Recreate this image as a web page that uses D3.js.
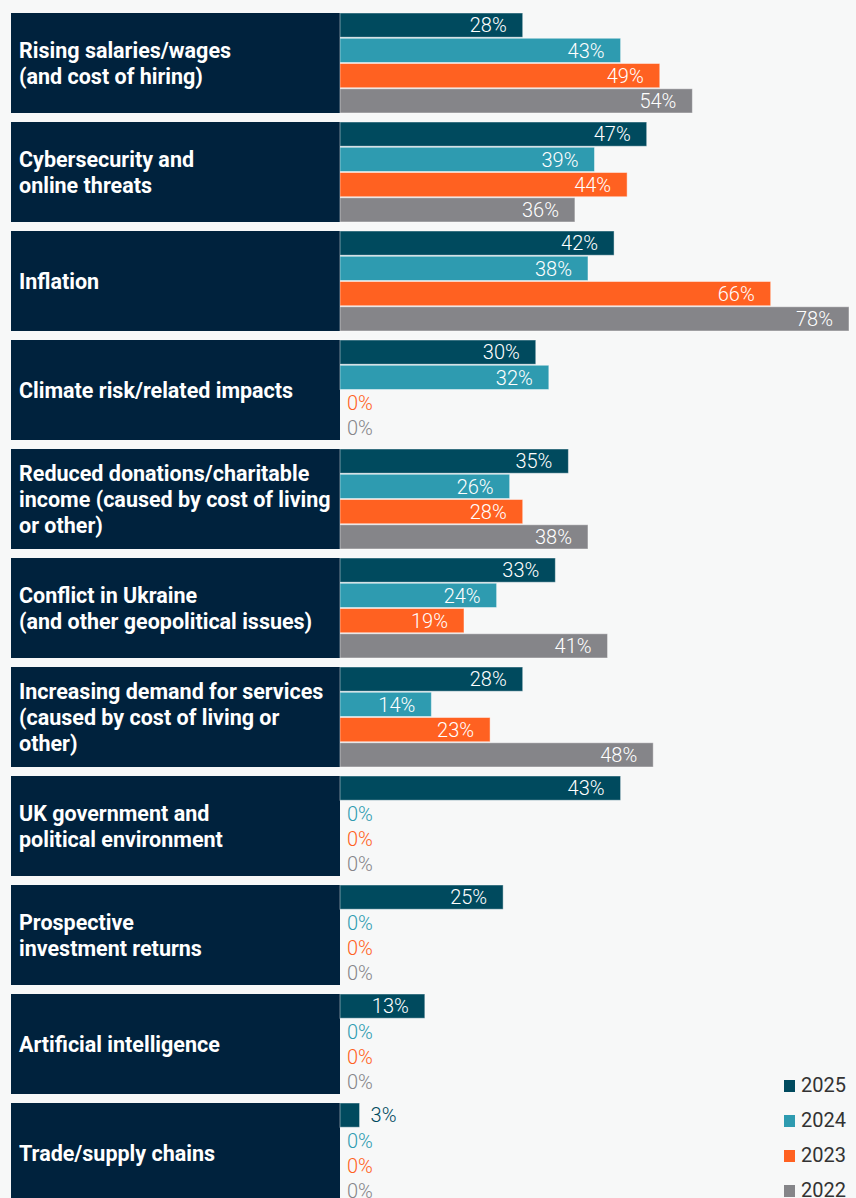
<!DOCTYPE html>
<html>
<head>
<meta charset="utf-8">
<script src="https://cdn.jsdelivr.net/npm/d3@7"></script>
<style>
  html, body { margin: 0; padding: 0; background: #f7f8f8; }
  svg { display: block; }
</style>
</head>
<body>
<svg id="chart" width="856" height="1198"></svg>
<script>
// Concerns, one entry per row group (lines as drawn in the label box)
const categories = [
  ["Rising salaries/wages", "(and cost of hiring)"],
  ["Cybersecurity and", "online threats"],
  ["Inflation"],
  ["Climate risk/related impacts"],
  ["Reduced donations/charitable", "income (caused by cost of living", "or other)"],
  ["Conflict in Ukraine", "(and other geopolitical issues)"],
  ["Increasing demand for services", "(caused by cost of living or", "other)"],
  ["UK government and", "political environment"],
  ["Prospective", "investment returns"],
  ["Artificial intelligence"],
  ["Trade/supply chains"]
];

const years = ["2025", "2024", "2023", "2022"];

// Share of respondents (%) per year
const values2025 = [28, 47, 42, 30, 35, 33, 28, 43, 25, 13, 3];
const values2024 = [43, 39, 38, 32, 26, 24, 14, 0, 0, 0, 0];
const values2023 = [49, 44, 66, 0, 28, 19, 23, 0, 0, 0, 0];
const values2022 = [54, 36, 78, 0, 38, 41, 48, 0, 0, 0, 0];

const seriesValues = [values2025, values2024, values2023, values2022];
const yearColors = ["#004a5e", "#2e9bb0", "#ff6121", "#858589"];

const svg = d3.select("#chart");

const boxLeft = 11, barLeft = 340;
const groupTop = 13, groupStep = 109, groupGap = 9;

const x = d3.scaleLinear().domain([0, 78]).range([barLeft, 849]);

const groupY = d3.scaleBand()
  .domain(d3.range(categories.length))
  .range([groupTop, groupTop + groupStep * categories.length - groupGap])
  .paddingInner(groupGap / groupStep)
  .paddingOuter(0);

const barY = d3.scaleBand()
  .domain(years)
  .range([0, groupY.bandwidth()])
  .paddingInner(0.04);

const color = d3.scaleOrdinal().domain(years).range(yearColors);

const groups = svg.selectAll("g.group")
  .data(categories)
  .join("g")
  .attr("class", "group")
  .attr("transform", (d, i) => `translate(0,${groupY(i)})`);

// Label box on the left
groups.append("rect")
  .attr("x", boxLeft)
  .attr("y", 0)
  .attr("width", barLeft - boxLeft)
  .attr("height", groupY.bandwidth())
  .attr("fill", "#00223d");

const lineH = 26;
groups.append("text")
  .attr("font-family", "Roboto, 'Noto Sans', sans-serif")
  .attr("font-weight", 700)
  .attr("font-size", 21.5)
  .attr("fill", "#ffffff")
  .each(function(lines) {
    const t = d3.select(this);
    const mid = groupY.bandwidth() / 2;
    lines.forEach((ln, k) => {
      t.append("tspan")
        .attr("x", 19)
        .attr("y", mid + (k - (lines.length - 1) / 2) * lineH + 7.5)
        .text(ln);
    });
  });

// Bars per year inside each group
groups.each(function(cat, i) {
  const g = d3.select(this);
  years.forEach((yr, s) => {
    const v = seriesValues[s][i];
    const y0 = barY(yr);
    const h = barY.bandwidth();
    if (v > 0) {
      g.append("rect")
        .attr("x", x(0))
        .attr("y", y0)
        .attr("width", x(v) - x(0))
        .attr("height", h)
        .attr("fill", color(yr))
        .attr("stroke", "rgba(255,255,255,0.45)")
        .attr("stroke-width", 1);
    }
    const w = x(v) - x(0);
    const inside = w > 50;
    g.append("text")
      .attr("x", inside ? x(v) - 16 : (v > 0 ? x(v) + 11 : x(0) + 7))
      .attr("y", y0 + h / 2)
      .attr("dy", "0.36em")
      .attr("text-anchor", inside ? "end" : "start")
      .attr("font-family", "Roboto, 'Noto Sans', sans-serif")
      .attr("font-weight", 300)
      .attr("font-size", 20)
      .attr("fill", inside ? "#ffffff" : color(yr))
      .text(v + "%");
  });
});

// Legend
const legend = svg.append("g")
  .selectAll("g")
  .data(years)
  .join("g")
  .attr("transform", (d, i) => `translate(784,${1080 + i * 35})`);

legend.append("rect")
  .attr("width", 11)
  .attr("height", 12)
  .attr("fill", d => color(d));

legend.append("text")
  .attr("x", 17)
  .attr("y", 12)
  .attr("font-family", "Roboto, 'Noto Sans', sans-serif")
  .attr("font-size", 20)
  .attr("fill", "#333333")
  .text(d => d);
</script>
</body>
</html>
